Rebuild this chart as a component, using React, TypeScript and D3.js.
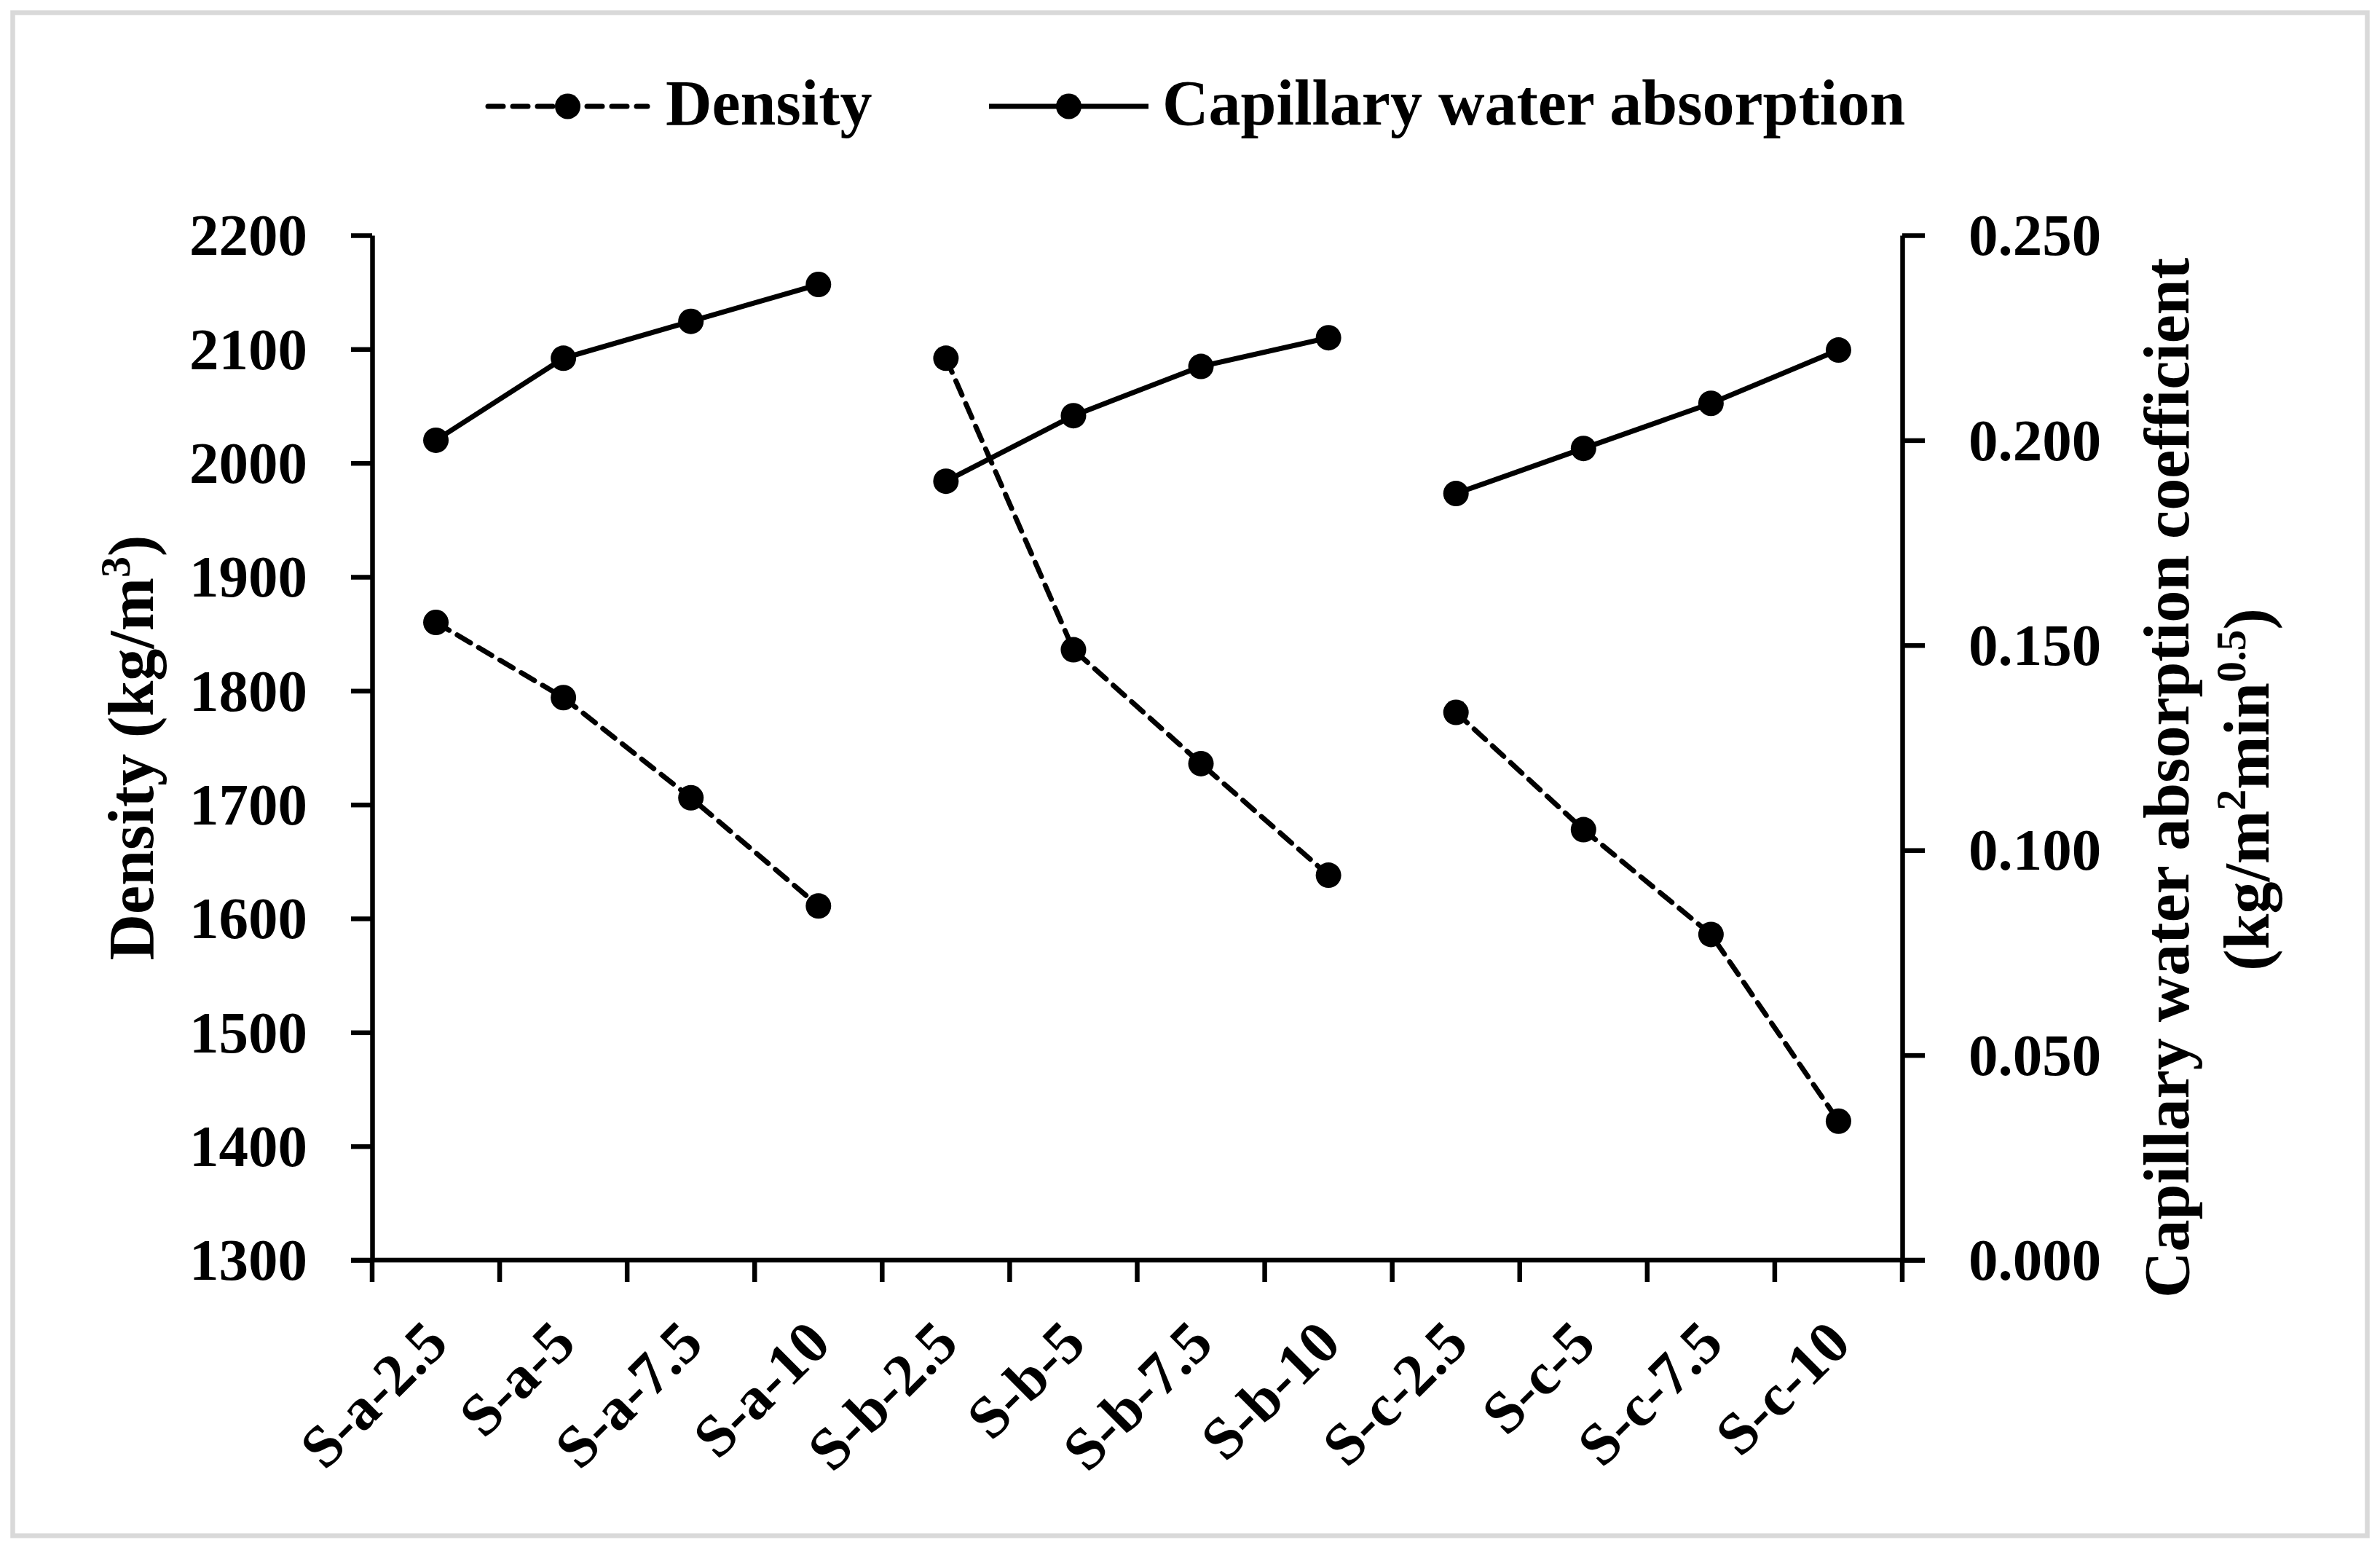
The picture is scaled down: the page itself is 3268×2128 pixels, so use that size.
import React, { useEffect, useRef } from "react";
import * as d3 from "d3";

// sample names, three groups of four
const categories = [
  "S-a-2.5", "S-a-5", "S-a-7.5", "S-a-10",
  "S-b-2.5", "S-b-5", "S-b-7.5", "S-b-10",
  "S-c-2.5", "S-c-5", "S-c-7.5", "S-c-10",
];
const groups = ["S-a", "S-b", "S-c"];

// Density (kg/m3), left axis
const density = [1860, 1794, 1706, 1611, 2092, 1836, 1736, 1638, 1781, 1678, 1586, 1422];
// Capillary water absorption coefficient, right axis
const capillary = [0.2, 0.22, 0.229, 0.238, 0.19, 0.206, 0.218, 0.225, 0.187, 0.198, 0.209, 0.222];

const leftTicks = [1300, 1400, 1500, 1600, 1700, 1800, 1900, 2000, 2100, 2200];
const rightTicks = [0, 0.05, 0.1, 0.15, 0.2, 0.25];

const W = 3268,
  H = 2128;
const FONT = "'Liberation Serif', 'Times New Roman', serif";

function drawChart(node: SVGSVGElement) {
  const svg = d3.select(node);
  svg.selectAll("*").remove();

  const left = 511,
    right = 2612,
    top = 323,
    bottom = 1730;
  const sw = 6.5;
  const lw = 7;

  // frame around the figure
  svg
    .append("rect")
    .attr("x", 17.5)
    .attr("y", 17.5)
    .attr("width", W - 35)
    .attr("height", H - 37)
    .attr("fill", "none")
    .attr("stroke", "#d9d9d9")
    .attr("stroke-width", 6.5);

  const x = d3.scaleBand().domain(categories).range([left, right]);
  const yL = d3.scaleLinear().domain([1300, 2200]).range([bottom, top]);
  const yR = d3.scaleLinear().domain([0, 0.25]).range([bottom, top]);

  // left axis
  const gl = svg
    .append("g")
    .attr("transform", `translate(${left},0)`)
    .call(
      d3
        .axisLeft(yL)
        .tickValues(leftTicks)
        .tickSize(29)
        .tickSizeOuter(0)
        .tickPadding(60)
        .tickFormat(d3.format("d"))
    );
  gl.select(".domain").attr("stroke-width", sw);
  gl.selectAll(".tick line").attr("stroke-width", sw);
  gl.selectAll(".tick text")
    .attr("font-family", FONT)
    .attr("font-weight", "bold")
    .attr("font-size", 81)
    .attr("fill", "#000")
    .attr("dy", "0.33em");

  // right axis
  const gr = svg
    .append("g")
    .attr("transform", `translate(${right},0)`)
    .call(
      d3
        .axisRight(yR)
        .tickValues(rightTicks)
        .tickSize(31)
        .tickSizeOuter(0)
        .tickPadding(60)
        .tickFormat(d3.format(".3f"))
    );
  gr.select(".domain").attr("stroke-width", sw);
  gr.selectAll(".tick line").attr("stroke-width", sw);
  gr.selectAll(".tick text")
    .attr("font-family", FONT)
    .attr("font-weight", "bold")
    .attr("font-size", 81)
    .attr("fill", "#000")
    .attr("dy", "0.33em");

  // bottom axis, ticks between categories
  const gx = svg.append("g");
  gx.append("line")
    .attr("x1", left - 29)
    .attr("x2", right + 31)
    .attr("y1", bottom)
    .attr("y2", bottom)
    .attr("stroke", "#000")
    .attr("stroke-width", sw);
  const edges = categories.map((c) => x(c) as number).concat([right]);
  gx.selectAll("line.tk")
    .data(edges)
    .join("line")
    .attr("class", "tk")
    .attr("x1", (d) => d)
    .attr("x2", (d) => d)
    .attr("y1", bottom)
    .attr("y2", bottom + 30)
    .attr("stroke", "#000")
    .attr("stroke-width", sw);
  gx.selectAll("text")
    .data(categories)
    .join("text")
    .attr(
      "transform",
      (d) => `translate(${(x(d) as number) + x.bandwidth() / 2 + 20},${bottom + 118}) rotate(-45)`
    )
    .attr("text-anchor", "end")
    .attr("font-family", FONT)
    .attr("font-weight", "bold")
    .attr("font-size", 82)
    .text((d) => d);

  const cx = (c: string) => (x(c) as number) + x.bandwidth() / 2;
  const idx = d3.range(categories.length);

  // lines, broken between groups
  const lineD = d3
    .line<number>()
    .x((i) => cx(categories[i]))
    .y((i) => yL(density[i]));
  const lineC = d3
    .line<number>()
    .x((i) => cx(categories[i]))
    .y((i) => yR(capillary[i]));

  groups.forEach((g) => {
    const members = idx.filter((i) => categories[i].startsWith(g + "-"));
    svg
      .append("path")
      .attr("d", lineD(members))
      .attr("fill", "none")
      .attr("stroke", "#000")
      .attr("stroke-width", lw)
      .attr("stroke-dasharray", "21 13")
      .attr("stroke-linecap", "round");
    svg
      .append("path")
      .attr("d", lineC(members))
      .attr("fill", "none")
      .attr("stroke", "#000")
      .attr("stroke-width", lw);
  });

  svg
    .append("g")
    .selectAll("circle")
    .data(idx)
    .join("circle")
    .attr("cx", (i) => cx(categories[i]))
    .attr("cy", (i) => yL(density[i]))
    .attr("r", 17.5)
    .attr("fill", "#000");
  svg
    .append("g")
    .selectAll("circle")
    .data(idx)
    .join("circle")
    .attr("cx", (i) => cx(categories[i]))
    .attr("cy", (i) => yR(capillary[i]))
    .attr("r", 17.5)
    .attr("fill", "#000");

  // axis titles
  const lt = svg
    .append("text")
    .attr("transform", `translate(210,${(top + bottom) / 2}) rotate(-90)`)
    .attr("text-anchor", "middle")
    .attr("font-family", FONT)
    .attr("font-weight", "bold")
    .attr("font-size", 88);
  lt.append("tspan").text("Density (kg/m");
  lt.append("tspan").attr("font-size", 58).attr("dy", -32).text("3");
  lt.append("tspan").attr("dy", 32).text(")");

  svg
    .append("text")
    .attr("transform", `translate(3005,1068) rotate(-90)`)
    .attr("text-anchor", "middle")
    .attr("font-family", FONT)
    .attr("font-weight", "bold")
    .attr("font-size", 88)
    .text("Capillary water absorption coefficient");
  const rt2 = svg
    .append("text")
    .attr("transform", `translate(3115,1084) rotate(-90)`)
    .attr("text-anchor", "middle")
    .attr("font-family", FONT)
    .attr("font-weight", "bold")
    .attr("font-size", 88);
  rt2.append("tspan").text("(kg/m");
  rt2.append("tspan").attr("font-size", 58).attr("dy", -32).text("2");
  rt2.append("tspan").attr("dy", 32).text("min");
  rt2.append("tspan").attr("font-size", 58).attr("dy", -32).text("0.5");
  rt2.append("tspan").attr("dy", 32).text(")");

  // legend
  const leg = svg.append("g");
  const items = [
    { label: "Density", x0: 670, x1: 889, tx: 914, dash: "21 13" },
    { label: "Capillary water absorption", x0: 1358, x1: 1577, tx: 1596, dash: null },
  ];
  items.forEach((it) => {
    leg.append("line")
      .attr("x1", it.x0)
      .attr("x2", it.x1)
      .attr("y1", 146)
      .attr("y2", 146)
      .attr("stroke", "#000")
      .attr("stroke-width", lw)
      .attr("stroke-dasharray", it.dash)
      .attr("stroke-linecap", it.dash ? "round" : "butt");
    leg.append("circle")
      .attr("cx", (it.x0 + it.x1) / 2)
      .attr("cy", 146)
      .attr("r", 17.5)
      .attr("fill", "#000");
    leg.append("text")
      .attr("x", it.tx)
      .attr("y", 171)
      .attr("font-family", FONT)
      .attr("font-weight", "bold")
      .attr("font-size", 88)
      .text(it.label);
  });
}

export default function App() {
  const ref = useRef<SVGSVGElement>(null);
  useEffect(() => {
    if (ref.current) drawChart(ref.current);
  }, []);
  return (
    <div>
      <style>{"body{margin:0;background:#fff}"}</style>
      <svg ref={ref} width={W} height={H} style={{ display: "block", background: "#fff" }} />
    </div>
  );
}
